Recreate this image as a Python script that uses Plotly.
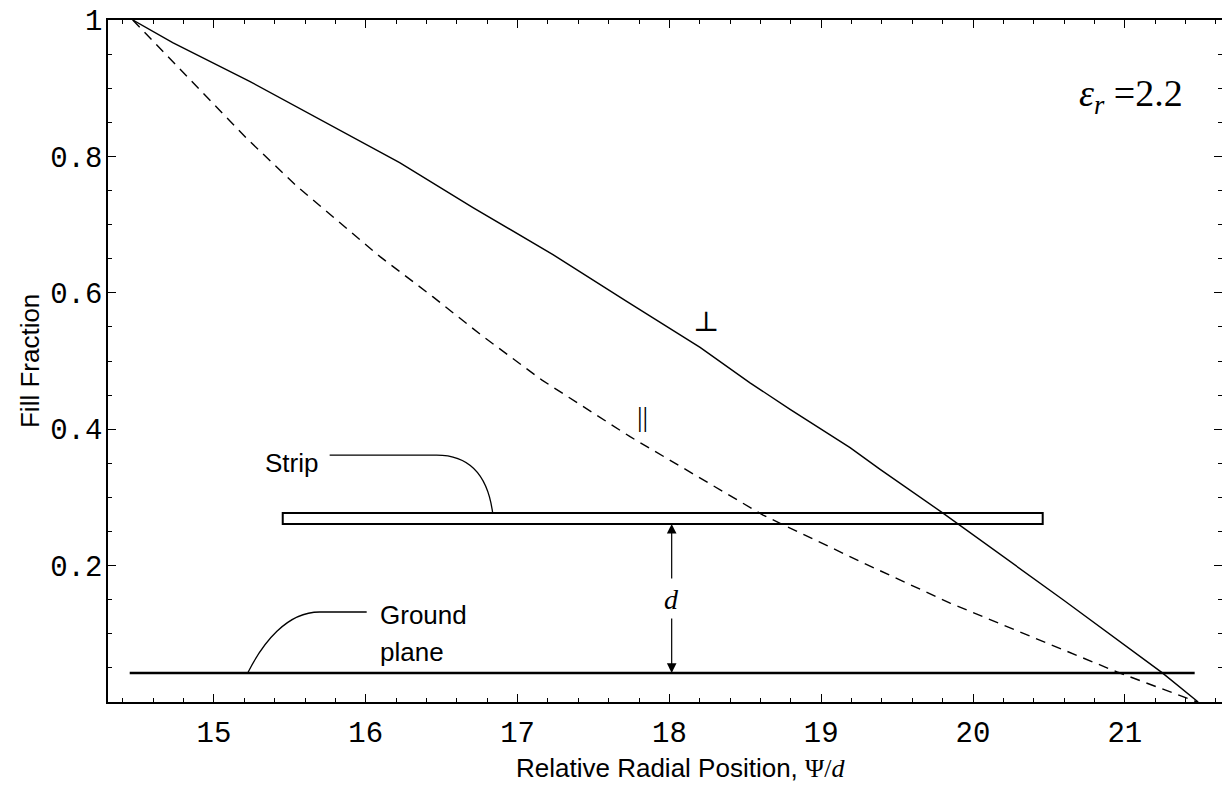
import plotly.graph_objects as go

# ---- data ----
perp_x = [14.465, 14.728, 15.235, 15.729, 16.223, 16.706, 17.082, 17.233, 17.721,
          18.202, 18.531, 18.795, 19.190, 19.388, 19.802, 20.593, 21.245, 21.483]
perp_y = [1.000, 0.967, 0.910, 0.850, 0.791, 0.725, 0.675, 0.656, 0.587,
          0.520, 0.468, 0.429, 0.373, 0.341, 0.277, 0.150, 0.043, 0.000]

par_x = [14.465, 14.906, 15.222, 15.547, 16.094, 16.443, 16.772, 17.161, 17.741,
         18.617, 19.276, 19.849, 20.330, 20.949, 21.476]
par_y = [1.000, 0.898, 0.825, 0.756, 0.653, 0.594, 0.536, 0.472, 0.389,
         0.274, 0.204, 0.145, 0.101, 0.044, 0.000]

x_ticks = [15, 16, 17, 18, 19, 20, 21]
x_ticktext = ["15", "16", "17", "18", "19", "20", "21"]
y_ticks = [0.2, 0.4, 0.6, 0.8, 1.0]
y_ticktext = ["0.2", "0.4", "0.6", "0.8", "1"]

# diagram geometry (strip over ground plane)
strip_x = [15.453, 20.459]
strip_y = [0.261, 0.277]
ground_x = [14.445, 21.46]
ground_y = 0.0426
d_x = 18.015
d_gap = [0.179, 0.1247]

X_RANGE = [14.302, 21.64]
Y_RANGE = [0.0, 1.0]

MONO = "Liberation Mono, Courier New, monospace"
SANS = "Liberation Sans, Arial, Helvetica, sans-serif"
SERIF = "Liberation Serif, Times New Roman, DejaVu Serif, serif"

fig = go.Figure()
fig.add_trace(go.Scatter(x=perp_x, y=perp_y, mode="lines",
                         line=dict(color="black", width=1.4), showlegend=False))
fig.add_trace(go.Scatter(x=par_x, y=par_y, mode="lines",
                         line=dict(color="black", width=1.4, dash="10px,7px"), showlegend=False))

shapes = []
shapes.append(dict(type="rect", xref="x", yref="y", x0=strip_x[0], x1=strip_x[1],
                   y0=strip_y[0], y1=strip_y[1], line=dict(color="black", width=2),
                   fillcolor="white", layer="below"))
shapes.append(dict(type="line", xref="x", yref="y", x0=ground_x[0], x1=ground_x[1],
                   y0=ground_y, y1=ground_y, line=dict(color="black", width=2.5)))
# leader for "Strip"
strip_leader = (f"M 15.762,0.362 L 16.467,0.362 C 16.684,0.362 16.803,0.333 "
                f"16.836,{strip_y[1]}")
shapes.append(dict(type="path", xref="x", yref="y", path=strip_leader,
                   line=dict(color="black", width=1.3)))
ground_leader = (f"M 15.222,{ground_y} C 15.321,0.0866 15.479,0.132 15.696,0.132 "
                 f"L 16.006,0.132")
shapes.append(dict(type="path", xref="x", yref="y", path=ground_leader,
                   line=dict(color="black", width=1.3)))

annotations = [
    dict(x=d_x, y=strip_y[0], ax=d_x, ay=d_gap[0], xref="x", yref="y", axref="x", ayref="y",
         text="", showarrow=True, arrowhead=2, arrowsize=1.6, arrowwidth=1.2, arrowcolor="black"),
    dict(x=d_x, y=ground_y, ax=d_x, ay=d_gap[1], xref="x", yref="y", axref="x", ayref="y",
         text="", showarrow=True, arrowhead=2, arrowsize=1.6, arrowwidth=1.2, arrowcolor="black"),
    dict(x=d_x, y=0.1497, xref="x", yref="y", text="<i>d</i>", showarrow=False,
         font=dict(family=SERIF, size=28, color="black")),
    dict(x=15.512, y=0.351, xref="x", yref="y", text="Strip", showarrow=False,
         font=dict(family=SANS, size=26, color="black")),
    dict(x=16.078, y=0.1277, xref="x", yref="y", text="Ground", showarrow=False, xanchor="left",
         font=dict(family=SANS, size=26, color="black")),
    dict(x=16.078, y=0.0734, xref="x", yref="y", text="plane", showarrow=False, xanchor="left",
         font=dict(family=SANS, size=26, color="black")),
    dict(x=18.239, y=0.5576, xref="x", yref="y", text="⊥", showarrow=False,
         font=dict(family=SERIF, size=28, color="black")),
    dict(x=17.824, y=0.4182, xref="x", yref="y", text="||", showarrow=False,
         font=dict(family=SERIF, size=28, color="black")),
    dict(x=21.395, y=0.888, xref="x", yref="y", xanchor="right",
         text="<i>ε<sub>r</sub></i> =2.2", showarrow=False,
         font=dict(family=SERIF, size=38, color="black")),
    dict(x=18.07, y=-0.0975, xref="x", yref="paper", yanchor="middle",
         text="Relative Radial Position, <span style='font-family:Liberation Serif'>Ψ/<i>d</i></span>",
         showarrow=False, font=dict(family=SANS, size=26, color="black")),
    dict(x=-0.07, y=0.5, xref="paper", yref="paper", xanchor="center", yanchor="middle",
         text="Fill Fraction", textangle=-90,
         showarrow=False, font=dict(family=SANS, size=26, color="black")),
]

axis_common = dict(showline=True, linecolor="black", linewidth=1.5, mirror="allticks",
                   ticks="inside", ticklen=8, tickwidth=1.2, tickcolor="black",
                   showgrid=False, zeroline=False, automargin=False,
                   tickfont=dict(family=MONO, size=29, color="black"))

fig.update_layout(
    width=1222, height=786,
    margin=dict(l=108, r=0, t=20, b=84),
    paper_bgcolor="white", plot_bgcolor="white",
    shapes=shapes, annotations=annotations,
    xaxis=dict(range=X_RANGE, tickvals=x_ticks, ticktext=x_ticktext,
               minor=dict(ticks="inside", ticklen=4, tick0=15, dtick=0.2, tickcolor="black"),
               ticklabelstandoff=3, **axis_common),
    yaxis=dict(range=Y_RANGE, tickvals=y_ticks, ticktext=y_ticktext,
               minor=dict(ticks="inside", ticklen=4, tick0=0, dtick=0.05, tickcolor="black"),
               ticklabelstandoff=-2, **axis_common),
)

fig.write_html("out.html", config={"displayModeBar": False},
               post_script="document.body.style.margin='0';document.body.style.overflow='hidden';")
